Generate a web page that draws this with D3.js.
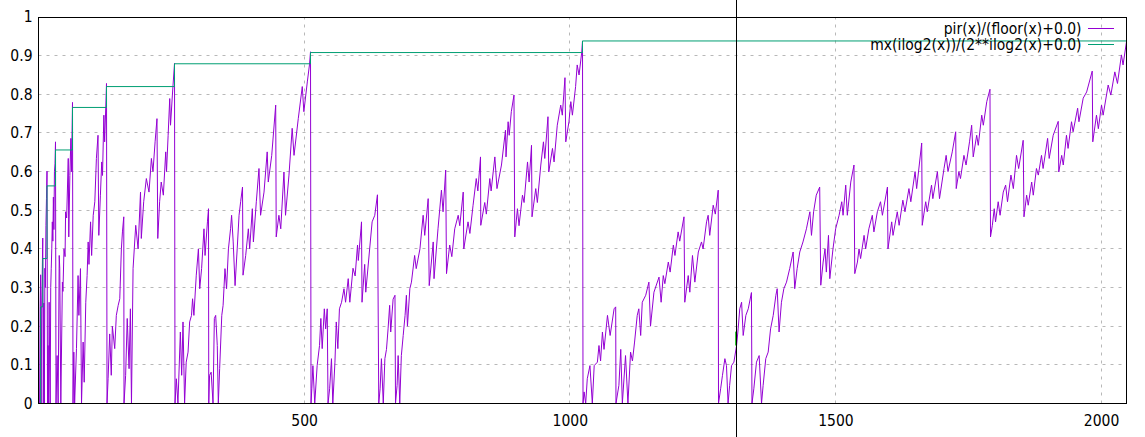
<!DOCTYPE html>
<html><head><meta charset="utf-8">
<script src="https://cdn.jsdelivr.net/npm/d3@7"></script>
<style>
body{margin:0;background:#fff}
svg{display:block}
text{font-family:'DejaVu Sans Condensed','Liberation Sans',Arial,sans-serif;font-size:15.5px;fill:#000}
</style>
</head><body>
<svg id="chart" width="1145" height="437"></svg>
<script>
// ---------- data ----------
const xTicks = [500, 1000, 1500, 2000];
const xTickLabels = ["500", "1000", "1500", "2000"];
const yTicks = [0, 0.1, 0.2, 0.3, 0.4, 0.5, 0.6, 0.7, 0.8, 0.9, 1];
const yTickLabels = ["0", "0.1", "0.2", "0.3", "0.4", "0.5", "0.6", "0.7", "0.8", "0.9", "1"];
const legendLabels = ["pir(x)/(floor(x)+0.0)", "mx(ilog2(x))/(2**ilog2(x)+0.0)"];

// green step series: start of each step and its value
const stepStarts = [1, 2, 4, 8, 16, 32, 64, 128, 256, 512, 1024];
const stepValues = [0, 0, 0.25, 0.375, 0.563, 0.656, 0.766, 0.82, 0.879, 0.908, 0.938];
const stepEnd = 2048;

// crosshair position (data x) and the little green mark on it (data y range)
const crosshairX = 1314;
const crossMark = [0.15, 0.186];

// purple series, [x, value] pairs, by octave
const seg0 = [[1,0],[2,0],[3,0.25],[4,0.333],[5,0],[6,0.25],[7,0.33],[8,0.428],[9,0],[10,0.26],[11,0],[12,0.35],[13,0.3],[14,0.461],[15,0.53],[16,0.601],[17,0],[18,0.15],[19,0],[20,0.262],[21,0.1],[22,0],[23,0.3],[24,0.35],[25,0.4],[26,0.47],[27,0.42],[28,0.534],[29,0.45],[30,0.6],[31,0.62],[32,0.677],[33,0],[35,0.124],[37,0],[39,0.383],[40,0.35],[42,0],[45,0.314],[46,0.29],[48,0.4],[50,0.38],[51,0.496],[53,0.48],[56,0.634],[57,0.431],[59,0.59],[61,0.686],[62,0.6],[64,0.779]];
const seg1 = [[65,0],[66.5,0.133],[68,0],[71.5,0.142],[74.5,0.331],[76,0.228],[79,0.349],[81,0],[84,0.159],[86,0.055],[89,0.262],[91.5,0.331],[93.5,0.418],[95,0.36],[98,0.47],[100,0.383],[103,0.487],[106,0.522],[109,0.634],[112,0.694],[113.5,0.435],[116.5,0.539],[119,0.625],[120.5,0.59],[123,0.746],[124.5,0.677],[128,0.828]];
const seg2 = [[129,0],[131,0.064],[134,0.18],[137,0.073],[139,0.2],[143.5,0.142],[146.5,0.228],[150,0.254],[153,0.271],[156,0.4],[158,0.444],[160.5,0.483],[161,0],[164,0.073],[167,0.22],[170.5,0.09],[173,0.245],[175,0],[178,0.349],[183,0.461],[187.5,0.4],[192,0.547],[193.5,0.427],[198,0.522],[203,0.582],[208,0.547],[212.5,0.634],[215.5,0.6],[219.5,0.677],[223,0.737],[224.5,0.427],[228,0.522],[231,0.573],[235,0.539],[239.5,0.651],[241,0.6],[244,0.694],[247,0.789],[248.5,0.72],[252,0.798],[256,0.88]];
const seg3 = [[257,0],[259.5,0.064],[262.5,0],[267,0.185],[269.5,0.073],[272,0.211],[275,0],[278,0.107],[281.5,0.133],[284.5,0.211],[288,0.228],[290,0.271],[292.5,0.228],[297,0.332],[301,0.4],[303.5,0.297],[307,0.349],[311.5,0.452],[313.5,0.383],[318,0.47],[320,0.504],[320.5,0],[322,0.073],[325,0.081],[328.5,0],[331,0.22],[333.5,0.228],[336.5,0.15],[338.5,0],[341,0.09],[345,0.228],[347.5,0.254],[351,0.349],[354,0.297],[357.5,0.4],[361.5,0.452],[363.5,0.487],[366.5,0.418],[370,0.305],[374,0.4],[377.5,0.487],[380.5,0.522],[384,0.56],[385,0.332],[390,0.383],[395,0.452],[397.5,0.4],[402.5,0.504],[404.5,0.418],[410,0.522],[415,0.608],[418,0.487],[424.5,0.547],[430.5,0.651],[432.5,0.573],[439,0.642],[446.5,0.772],[447.5,0.431],[452.5,0.487],[456,0.452],[462,0.599],[465,0.487],[471.5,0.591],[477.5,0.712],[481,0.642],[489,0.737],[496.5,0.82],[499.5,0.755],[506,0.832],[510,0.876],[512,0.91]];
const seg4 = [[513,0],[514.5,0.038],[516.5,0.098],[520,0],[524.5,0.098],[529,0.15],[531.5,0.22],[534,0.142],[538,0.245],[540.5,0.193],[543.5,0.245],[545,0],[548,0.038],[551.5,0.116],[554,0],[558,0.107],[560.5,0.211],[563.5,0.142],[566.5,0.245],[570.5,0.262],[575,0.297],[578,0.262],[583,0.323],[586,0.262],[592,0.35],[596,0.33],[600.5,0.41],[602,0.37],[607,0.452],[608,0.47],[609,0.262],[614,0.36],[616,0.288],[624,0.41],[628,0.47],[633,0.487],[638,0.54],[640.5,0],[643,0.038],[645.5,0.116],[649,0],[652,0.116],[655,0.14],[658,0.193],[661,0.254],[663,0.185],[667.5,0.27],[671,0.28],[672,0],[675,0.047],[677,0.124],[680,0],[683,0.124],[686.5,0.176],[690,0.228],[692.5,0.28],[694.5,0.2],[699,0.297],[702,0.314],[708,0.383],[711,0.349],[718,0.4],[724,0.487],[727,0.435],[733.5,0.53],[735.5,0.305],[743,0.418],[744.5,0.323],[752,0.452],[758.5,0.552],[761.5,0.496],[766.5,0.604],[768,0.336],[774,0.41],[778,0.38],[783.5,0.452],[790,0.487],[793,0.46],[799.5,0.547],[800.5,0.4],[808.5,0.47],[812,0.44],[818,0.513],[824,0.582],[827,0.55],[832,0.638],[832.5,0.461],[840,0.52],[843,0.49],[849.5,0.582],[852,0.55],[859,0.638],[863,0.556],[871.5,0.617],[879,0.707],[880,0.638],[884,0.729],[886,0.694],[890,0.755],[895,0.798],[896.5,0.431],[901.5,0.504],[904.5,0.46],[911,0.539],[914,0.52],[920.5,0.625],[923.5,0.573],[928,0.668],[929,0.483],[936,0.556],[939,0.52],[945.5,0.617],[950.5,0.677],[953,0.634],[959,0.742],[960.5,0.599],[967.5,0.66],[970.5,0.625],[976.5,0.72],[983,0.772],[986,0.746],[991,0.843],[992.5,0.677],[998.5,0.729],[1002,0.781],[1005,0.746],[1011,0.82],[1014,0.876],[1017.5,0.85],[1022.5,0.908],[1024,0.938]];
const seg5 = [[1025,0],[1027,0.03],[1030,0],[1033,0.064],[1038,0.098],[1042.5,0],[1046,0.098],[1052,0.107],[1055,0.15],[1058,0.11],[1061.5,0.185],[1064.5,0.14],[1071,0.228],[1076,0.176],[1083.5,0.245],[1086.5,0.25],[1087,0],[1092.5,0.047],[1096,0.14],[1099,0],[1105,0.124],[1109.5,0],[1114.5,0.133],[1118,0.11],[1122,0.159],[1127,0.228],[1130,0.245],[1133.5,0.176],[1136.5,0.262],[1143,0.28],[1149,0.314],[1152,0.2],[1158.5,0.288],[1168,0.327],[1172,0.262],[1176,0.331],[1179,0.31],[1185.5,0.366],[1189,0.34],[1195,0.41],[1198,0.383],[1204,0.444],[1207,0.42],[1215,0.483],[1216.5,0.262],[1223,0.331],[1226,0.288],[1231,0.383],[1235.5,0.314],[1242,0.392],[1248,0.418],[1251,0.4],[1257.5,0.47],[1260.5,0.487],[1263.5,0.435],[1270,0.513],[1274,0.49],[1279.5,0.552],[1280,0],[1284,0.038],[1287.5,0.073],[1292,0.116],[1295,0.098],[1298,0],[1301,0.047],[1304.5,0.098],[1309,0.107],[1314,0.15],[1317,0.193],[1320,0.245],[1323.5,0.262],[1326.5,0.176],[1331.5,0.228],[1336,0.245],[1342,0.287],[1343,0],[1346.5,0.038],[1351.5,0.107],[1356.5,0.124],[1361,0],[1364,0.047],[1369,0.116],[1373.5,0.133],[1378,0.193],[1383,0.228],[1388,0.28],[1390.5,0.297],[1394,0.185],[1398.5,0.262],[1403,0.297],[1408,0.314],[1414,0.349],[1420.5,0.392],[1423.5,0.297],[1428,0.349],[1433,0.392],[1439,0.418],[1445.5,0.452],[1452,0.496],[1455,0.435],[1459,0.496],[1464,0.539],[1470.5,0.56],[1472.5,0.306],[1477,0.366],[1480.5,0.4],[1483,0.34],[1487,0.435],[1489.5,0.323],[1495.5,0.4],[1500.5,0.452],[1507,0.487],[1512,0.522],[1514.5,0.487],[1519.5,0.565],[1522.5,0.487],[1529,0.573],[1535,0.617]];
const seg6 = [[1536.5,0.336],[1541.5,0.366],[1544.5,0.4],[1547.5,0.375],[1554,0.435],[1557,0.4],[1563,0.452],[1569.5,0.487],[1572.5,0.444],[1579,0.496],[1585,0.522],[1588.5,0.487],[1598,0.56],[1599,0.4],[1606,0.47],[1608.5,0.435],[1616.5,0.496],[1620,0.461],[1627,0.526],[1631,0.496],[1638.5,0.556],[1642,0.522],[1650,0.6],[1653,0.556],[1662.5,0.674],[1663.5,0.461],[1670,0.522],[1673,0.496],[1681,0.565],[1683.5,0.53],[1692,0.6],[1696,0.53],[1704.5,0.608],[1708.5,0.642],[1712,0.6],[1720,0.651],[1726.5,0.703],[1727.5,0.556],[1732.5,0.6],[1735.5,0.582],[1742,0.642],[1746,0.617],[1752.5,0.677],[1756.5,0.72],[1759.5,0.638],[1766,0.694],[1769,0.668],[1775.5,0.746],[1778.5,0.72],[1785,0.781],[1791,0.813],[1792,0.431],[1795.5,0.461],[1799,0.504],[1801.5,0.47],[1806.5,0.522],[1810,0.487],[1816,0.547],[1820.5,0.565],[1824,0.522],[1830.5,0.591],[1835,0.556],[1841,0.642],[1845,0.608],[1853.5,0.681],[1855,0.483],[1860,0.539],[1863,0.513],[1869.5,0.573],[1872.5,0.539],[1878.5,0.608],[1882,0.591],[1888,0.642],[1891,0.608],[1899.5,0.686],[1902.5,0.634],[1910,0.694],[1919.5,0.73],[1920.5,0.599],[1926,0.642],[1929,0.617],[1935,0.694],[1938,0.66],[1944.5,0.729],[1947.5,0.703],[1956,0.764],[1958.5,0.729],[1966.5,0.79],[1973,0.806],[1983.5,0.86],[1984.5,0.677],[1991.5,0.746],[1995,0.711],[2001,0.772],[2004,0.746],[2013.5,0.824],[2018.5,0.798],[2026,0.858],[2031,0.828],[2038.5,0.902],[2041.5,0.876],[2048,0.936]];

// ---------- drawing ----------
const W = 1145, H = 437;
const L = 38.5, R = 1126.5, T = 17, B = 403.5;
const svg = d3.select("#chart");
const x = d3.scaleLinear().domain([0, 2048]).range([L, R]);
const y = d3.scaleLinear().domain([0, 1]).range([B, T]);
const snap = v => Math.round(v - 0.5) + 0.5;

svg.append("defs").append("clipPath").attr("id", "plotclip")
  .append("rect").attr("x", L).attr("y", T - 1).attr("width", R - L).attr("height", B - T + 1);

// grid
const grid = svg.append("g").attr("stroke", "#b8b8b8").attr("stroke-width", 1)
  .attr("stroke-dasharray", "3,5").attr("fill", "none");
grid.selectAll("line.gy").data(yTicks.filter(v => v > 0 && v < 1)).join("line")
  .attr("class", "gy").attr("x1", L).attr("x2", R)
  .attr("y1", d => snap(y(d))).attr("y2", d => snap(y(d)));
grid.selectAll("line.gx").data(xTicks).join("line")
  .attr("class", "gx").attr("y1", B).attr("y2", T)
  .attr("x1", d => snap(x(d))).attr("x2", d => snap(x(d)));

// axes labels through d3 axes
const yAxis = d3.axisLeft(y).tickValues(yTicks).tickFormat((d, i) => yTickLabels[i]).tickSize(0).tickPadding(6);
const gy = svg.append("g").attr("transform", `translate(${L},0)`).call(yAxis);
gy.select(".domain").remove();
gy.selectAll("text").style("font-size", "15.5px").attr("fill", "#000");

const xAxis = d3.axisBottom(x).tickValues(xTicks).tickFormat((d, i) => xTickLabels[i]).tickSize(0).tickPadding(11);
const gx = svg.append("g").attr("transform", `translate(0,${B})`).call(xAxis);
gx.select(".domain").remove();
gx.selectAll("text").style("font-size", "15.5px").attr("fill", "#000");

// series
const pirData = [].concat(seg0, seg1, seg2, seg3, seg4, seg5, seg6);
const plot = svg.append("g").attr("clip-path", "url(#plotclip)");
const line = d3.line().x(d => x(d[0])).y(d => y(d[1]));
plot.append("path").datum(pirData).attr("d", line)
  .attr("fill", "none").attr("stroke", "#9400d3").attr("stroke-width", 1).attr("stroke-linejoin", "miter");

const stepData = stepStarts.map((s, i) => [s, stepValues[i]]).concat([[stepEnd, stepValues[stepValues.length - 1]]]);
const stepLine = d3.line().x(d => x(d[0])).y(d => y(d[1])).curve(d3.curveStepAfter);
plot.append("path").datum(stepData).attr("d", stepLine)
  .attr("fill", "none").attr("stroke", "#009e73").attr("stroke-width", 1);

// border
svg.append("rect").attr("x", L).attr("y", snap(T)).attr("width", R - L).attr("height", B - snap(T))
  .attr("fill", "none").attr("stroke", "#000").attr("stroke-width", 1);

// legend
const legend = svg.append("g");
const legColors = ["#9400d3", "#009e73"];
legendLabels.forEach((lab, i) => {
  const cy = 28.5 + i * 16;
  legend.append("text").attr("x", 1081.5).attr("y", cy + 5).attr("text-anchor", "end")
    .style("font-size", "15.5px").text(lab);
  legend.append("line").attr("x1", 1088).attr("x2", 1114).attr("y1", cy).attr("y2", cy)
    .attr("stroke", legColors[i]).attr("stroke-width", 1);
});

// crosshair
const cx = snap(x(crosshairX));
svg.append("line").attr("x1", cx).attr("x2", cx).attr("y1", 0).attr("y2", H)
  .attr("stroke", "#000").attr("stroke-width", 1);
svg.append("line").attr("x1", cx - 1).attr("x2", cx - 1)
  .attr("y1", y(crossMark[1])).attr("y2", y(crossMark[0]))
  .attr("stroke", "#33cc33").attr("stroke-width", 1);
</script>
</body></html>
